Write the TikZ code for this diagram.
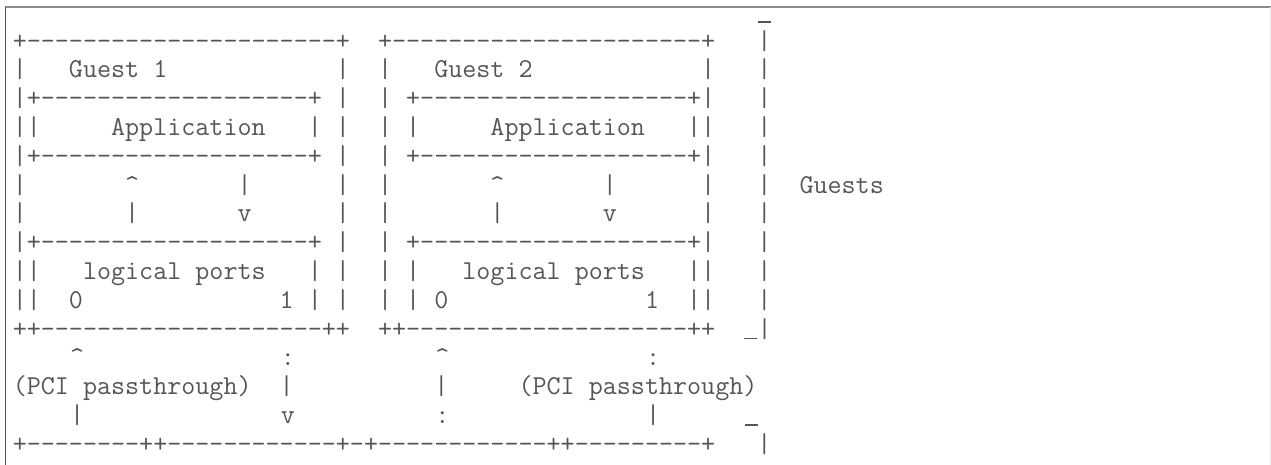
\documentclass[tikz,border=0pt]{standalone}
\usepackage{tikz}
\usetikzlibrary{positioning}
\definecolor{asciigray}{RGB}{85,85,85}
\definecolor{framegray}{RGB}{140,140,140}
\newcommand{\crt}{\char94\relax}
\newcommand{\usc}{\makebox[0.525em][c]{\rule[-0.08em]{0.48em}{0.05em}}}

\begin{document}
\begin{tikzpicture}[x=1bp,y=-1bp,
  asciirow/.style={anchor=base west,inner sep=0pt,outer sep=0pt,text=asciigray,
    font=\fontsize{27.28bp}{28.8bp}\selectfont\ttfamily\frenchspacing}]
\useasboundingbox (0,0) rectangle (1271,465);
% frame of the code block
\draw[framegray,line width=1.5bp] (5,7) -- (1271,7);
\draw[black!70,line width=1bp] (5,7) -- (5,465);
\draw[black!8,line width=1bp] (1270,7) -- (1270,465);
% rows of the picture: row/column/text
\foreach \rk/\ck/\txt in {
 0/52/{\usc{}},
 1/0/{+----------------------+~~+----------------------+~~~|},
 2/0/{|~~~Guest~1~~~~~~~~~~~~|~~|~~~Guest~2~~~~~~~~~~~~|~~~|},
 3/0/{|+-------------------+~|~~|~+-------------------+|~~~|},
 4/0/{||~~~~~Application~~~|~|~~|~|~~~~~Application~~~||~~~|},
 5/0/{|+-------------------+~|~~|~+-------------------+|~~~|},
 6/0/{|~~~~~~~\crt{}~~~~~~~|~~~~~~|~~|~~~~~~~\crt{}~~~~~~~|~~~~~~|~~~|~~Guests},
 7/0/{|~~~~~~~|~~~~~~~v~~~~~~|~~|~~~~~~~|~~~~~~~v~~~~~~|~~~|},
 8/0/{|+-------------------+~|~~|~+-------------------+|~~~|},
 9/0/{||~~~logical~ports~~~|~|~~|~|~~~logical~ports~~~||~~~|},
 10/0/{||~~0~~~~~~~~~~~~~~1~|~|~~|~|~0~~~~~~~~~~~~~~1~~||~~~|},
 11/0/{++--------------------++~~++--------------------++~~\usc{}|},
 12/4/{\crt{}~~~~~~~~~~~~~~:~~~~~~~~~~\crt{}~~~~~~~~~~~~~~:},
 13/0/{(PCI~passthrough)~~|~~~~~~~~~~|~~~~~(PCI~passthrough)},
 14/4/{|~~~~~~~~~~~~~~v~~~~~~~~~~:~~~~~~~~~~~~~~|~~~~~~\usc{}},
 15/0/{+--------++------------+-+------------++---------+~~~|}}
  \node[asciirow] (row\rk) at (12.8+14.32*\ck, 20.4+28.8*\rk) {\txt};
\end{tikzpicture}
\end{document}
